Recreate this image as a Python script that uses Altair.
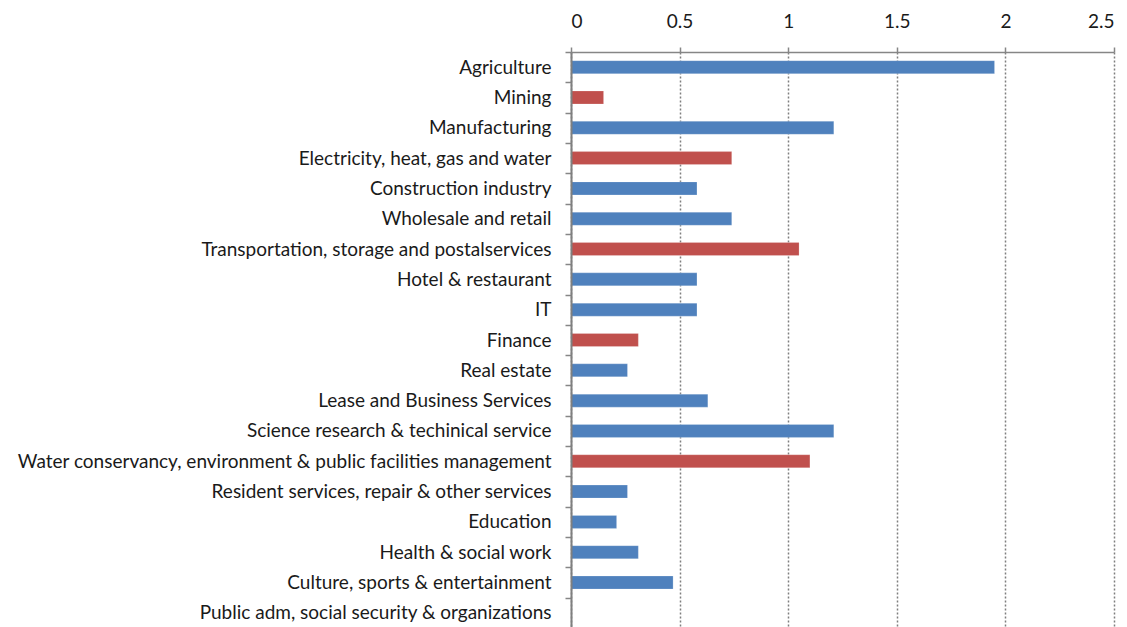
import altair as alt
import pandas as pd

industries = [
    "Agriculture", "Mining", "Manufacturing", "Electricity, heat, gas and water",
    "Construction industry", "Wholesale and retail",
    "Transportation, storage and postalservices", "Hotel & restaurant", "IT",
    "Finance", "Real estate", "Lease and Business Services",
    "Science research & techinical service",
    "Water conservancy, environment & public facilities management",
    "Resident services, repair & other services", "Education",
    "Health & social work", "Culture, sports & entertainment",
    "Public adm, social security & organizations",
]
values = [1.95, 0.15, 1.21, 0.74, 0.58, 0.74, 1.05, 0.58, 0.58, 0.31,
          0.26, 0.63, 1.21, 1.10, 0.26, 0.21, 0.31, 0.47, 0.0]
groups = ["blue", "red", "blue", "red", "blue", "blue", "red", "blue", "blue", "red",
          "blue", "blue", "blue", "red", "blue", "blue", "blue", "blue", "blue"]
x_ticks = [0, 0.5, 1, 1.5, 2, 2.5]

df = pd.DataFrame({"industry": industries, "value": values, "group": groups})

FONT = "Lato"

chart = alt.Chart(df).mark_bar(size=13, stroke="white", strokeWidth=0.5, strokeOpacity=0.4).encode(
    x=alt.X("value:Q",
            scale=alt.Scale(domain=[0, 2.5], nice=False),
            axis=alt.Axis(orient="top", values=x_ticks, title=None, format="~g",
                          labelFont=FONT, labelFontSize=19, labelColor="#1a1a1a",
                          labelPadding=16, tickSize=5, tickColor="#868686", tickWidth=1.5,
                          domainColor="#868686", domainWidth=1.5,
                          grid=True, gridColor="#7f7f7f", gridDash=[2, 2], gridWidth=1.5)),
    y=alt.Y("industry:N", sort=industries,
            scale=alt.Scale(paddingInner=0, paddingOuter=0),
            axis=alt.Axis(title=None, labelFont=FONT, labelFontSize=19,
                          labelColor="#1a1a1a", labelPadding=14, tickBand="extent",
                          tickSize=6, tickColor="#868686", tickWidth=1.5,
                          domainColor="#7f7f7f", domainWidth=2, labelLimit=700,
                          zindex=1)),
    color=alt.Color("group:N",
                    scale=alt.Scale(domain=["blue", "red"], range=["#4F81BD", "#C0504D"]),
                    legend=None),
).properties(
    width=543, height=576,
    padding={"left": 571, "top": 52, "right": 13, "bottom": 0},
    autosize=alt.AutoSizeParams(type="none"),
).configure_view(stroke=None)

chart.save("out.html", embed_options={"renderer": "svg", "actions": False})
